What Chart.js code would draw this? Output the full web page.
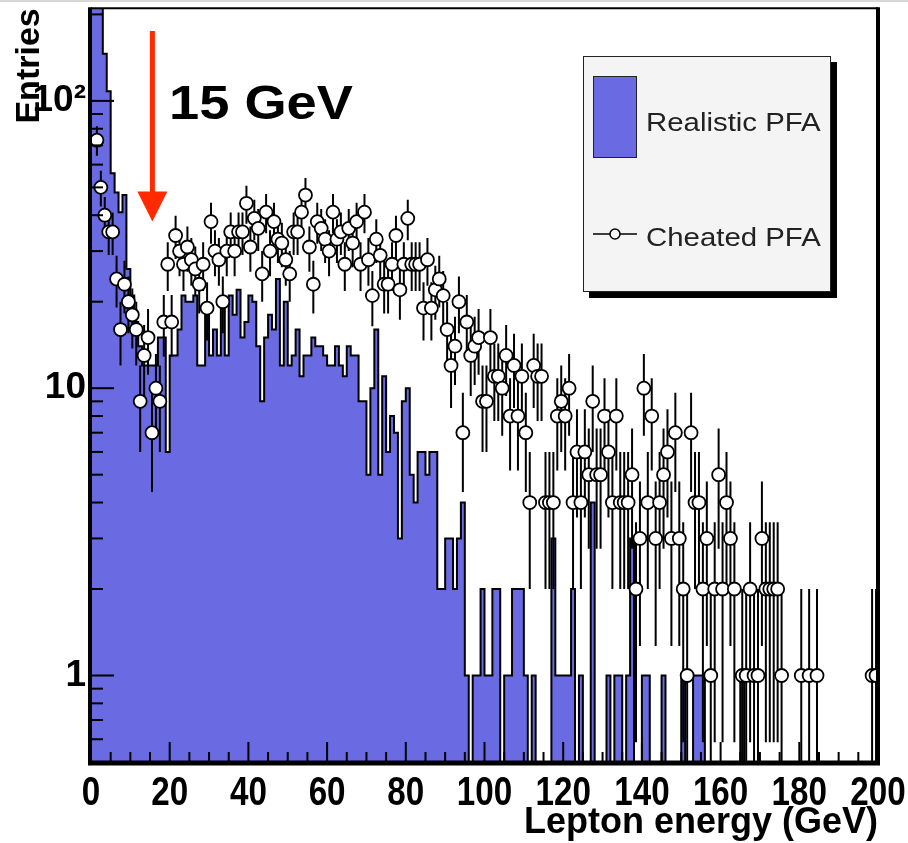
<!DOCTYPE html>
<html>
<head>
<meta charset="utf-8">
<script src="https://cdn.jsdelivr.net/npm/chart.js@4.4.1/dist/chart.umd.min.js"></script>
<style>
  html, body { margin: 0; padding: 0; background: #fff; }
  #wrap { position: relative; width: 908px; height: 843px; overflow: hidden; }
  #topline { position: absolute; left: 0; top: 0; width: 908px; height: 2px; background: #d8d8d8; }
  #c { position: absolute; left: 0; top: 0; }
  .note { position: absolute; left: 169px; top: 79px; font: bold 48px "Liberation Sans", Arial, sans-serif; color: #000;
          white-space: nowrap; line-height: 1; transform: scaleX(1.13); transform-origin: 0 0; }
  #legend { position: absolute; left: 583px; top: 56px; width: 248px; height: 236px; box-sizing: border-box;
            background: #f4f4f4; border: 1px solid #222; box-shadow: 6px 6px 0 #000; }
  #legend .swatch { position: absolute; left: 9px; top: 19px; width: 44px; height: 82px; box-sizing: border-box;
                    background: #6a6ae2; border: 1px solid #222; }
  #legend .txt { position: absolute; left: 62px; font: 26px "Liberation Sans", Arial, sans-serif; color: #222; line-height: 1;
                 white-space: nowrap; transform: scaleX(1.13); transform-origin: 0 0; }
  #legend svg { position: absolute; left: 8px; top: 167px; }
</style>
</head>
<body>
<div id="wrap">
  <canvas id="c" width="908" height="843"></canvas>
  <div id="topline"></div>
  <div class="note">15 GeV</div>
  <div id="legend">
    <div class="swatch"></div>
    <div class="txt" style="top:52px">Realistic PFA</div>
    <svg width="46" height="20"><line x1="1" y1="10" x2="45" y2="10" stroke="#000" stroke-width="1.5"/><circle cx="23" cy="10" r="5" fill="#f4f4f4" stroke="#000" stroke-width="1.5"/></svg>
    <div class="txt" style="top:167px">Cheated PFA</div>
  </div>
</div>
<script>
// histogram binning: 200 bins of 1 GeV starting at 0
const binWidth = 1;

// Realistic PFA, entries per bin (0-1 GeV, 1-2 GeV, ...)
const realistic = [
  250, 250, 220, 146, 108, 56, 48, 41, 47, 26,
  21, 17, 14, 12, 12, 12, 12, 15, 15, 6,
  13, 13, 16, 21, 20, 20, 21, 12, 12, 18,
  13, 16, 13, 20, 13, 21, 18, 22, 15, 17,
  21, 20, 14, 9, 15, 18, 16, 24, 12, 20,
  12, 13, 16, 11, 13, 13, 15, 14, 14, 13,
  12, 12, 14, 12, 11, 14, 13, 13, 9, 9,
  5, 10, 16, 5, 11, 6, 8, 7, 3, 9,
  10, 5, 4, 6, 6, 5, 6, 6, 2, 2,
  3, 3, 2, 3, 4, 1, 0, 1, 1, 2,
  1, 1, 2, 2, 0, 1, 1, 2, 2, 2,
  1, 0, 1, 0, 0, 0, 0, 3, 1, 1,
  1, 1, 2, 0, 1, 0, 0, 4, 0, 0,
  0, 1, 0, 1, 1, 0, 1, 3, 0, 0,
  1, 1, 0, 0, 0, 1, 0, 0, 0, 0,
  1, 0, 0, 1, 1, 1, 0, 0, 0, 0,
  0, 0, 0, 0, 0, 1, 0, 0, 0, 0,
  0, 0, 0, 0, 0, 0, 0, 0, 0, 0,
  0, 0, 0, 0, 0, 0, 0, 0, 0, 0,
  0, 0, 0, 0, 0, 0, 0, 0, 0, 0
];

// Cheated PFA, entries per bin
const cheated = [
  0, 73, 50, 40, 35, 35, 24, 16, 23, 20,
  18, 16, 9, 13, 15, 7, 10, 9, 17, 27,
  17, 34, 30, 27, 31, 28, 26, 23, 27, 19,
  38, 30, 28, 20, 30, 35, 30, 35, 35, 44,
  31, 39, 36, 25, 41, 30, 38, 33, 32, 28,
  25, 35, 35, 41, 47, 31, 23, 38, 36, 33,
  30, 41, 33, 35, 27, 36, 32, 38, 27, 41,
  28, 21, 33, 29, 23, 23, 27, 34, 22, 27,
  39, 27, 27, 27, 19, 28, 19, 22, 24, 21,
  16, 12, 14, 20, 7, 17, 13, 14, 15, 9,
  9, 15, 11, 11, 10, 13, 8, 12, 8, 11,
  7, 4, 12, 11, 11, 4, 4, 4, 8, 9,
  8, 10, 4, 6, 4, 6, 5, 9, 5, 5,
  8, 6, 4, 8, 4, 4, 4, 5, 2, 3,
  10, 4, 8, 3, 4, 5, 6, 3, 7, 3,
  2, 1, 7, 4, 4, 2, 3, 1, 2, 5,
  2, 4, 3, 2, 0, 1, 1, 2, 1, 1,
  3, 2, 2, 2, 2, 1, 0, 0, 0, 0,
  1, 0, 1, 0, 1, 0, 0, 0, 0, 0,
  0, 0, 0, 0, 0, 0, 0, 0, 1, 1
];

// axes
const xMin = 0, xMax = 200, xMinorStep = 5;
const xTickValues = [0, 20, 40, 60, 80, 100, 120, 140, 160, 180, 200];
const xTickLabels = ['0', '20', '40', '60', '80', '100', '120', '140', '160', '180', '200'];
const yMin = 0.5, yMax = 210;
const yTickValues = [1, 10, 100];
const yTickLabels = ['1', '10', '10\u00B2'];

// "15 GeV" arrow (energy, entries at tail and tip)
const arrowEnergy = 15.6, arrowFrom = 175, arrowTo = 38;

const blue = '#6a6ae2';
const below = 0.1; // empty bins go under the axis floor
const sans = "'Liberation Sans', Arial, sans-serif";

// step outline points: bin centres plus the two outer edges
function stepPoints(counts) {
  const pts = [{ x: xMin, y: counts[0] || below }];
  counts.forEach((n, i) => pts.push({ x: xMin + (i + 0.5) * binWidth, y: n || below }));
  pts.push({ x: xMin + counts.length * binWidth, y: counts[counts.length - 1] || below });
  return pts;
}

const errorBars = {
  id: 'errorBars',
  beforeDatasetDraw(chart, args) {
    if (chart.data.datasets[args.index].label !== 'Cheated PFA') return;
    const { ctx, chartArea: a, scales: { x, y } } = chart;
    ctx.save();
    ctx.beginPath();
    ctx.rect(a.left, a.top, a.right - a.left, a.bottom - a.top);
    ctx.clip();
    ctx.strokeStyle = '#000';
    ctx.lineWidth = 2;
    cheated.forEach((n, i) => {
      if (n <= 0) return;
      const e = Math.sqrt(n);
      const px = x.getPixelForValue(xMin + (i + 0.5) * binWidth);
      const lo = n - e;
      ctx.beginPath();
      ctx.moveTo(px, y.getPixelForValue(n + e));
      ctx.lineTo(px, lo > 0 ? y.getPixelForValue(lo) : a.bottom + 5);
      ctx.stroke();
    });
    ctx.restore();
  }
};

const frame = {
  id: 'frame',
  afterDatasetsDraw(chart) {
    const { ctx, chartArea: a, scales: { x, y } } = chart;
    ctx.save();
    ctx.strokeStyle = '#000';
    ctx.lineWidth = 2;
    const seg = (x0, y0, x1, y1) => { ctx.beginPath(); ctx.moveTo(x0, y0); ctx.lineTo(x1, y1); ctx.stroke(); };
    // log ticks on the left, pointing in
    for (let d = -1; d <= 2; d++) {
      for (let m = 1; m <= 9; m++) {
        const v = m * Math.pow(10, d);
        if (v < yMin || v > yMax) continue;
        const py = y.getPixelForValue(v);
        seg(a.left, py, a.left + (m === 1 ? 23 : 12), py);
      }
    }
    // x ticks on the bottom, pointing in
    for (let v = xMin; v <= xMax; v += xMinorStep) {
      const px = x.getPixelForValue(v);
      seg(px, a.bottom, px, a.bottom - (xTickValues.includes(v) ? 20 : 10));
    }
    // frame
    seg(a.left, a.top, a.right, a.top);
    ctx.lineWidth = 4;
    seg(a.left - 1, a.top - 1, a.left - 1, a.bottom + 2);
    seg(a.right, a.top - 1, a.right, a.bottom + 2);
    ctx.lineWidth = 5;
    seg(a.left - 3, a.bottom + 1, a.right + 2, a.bottom + 1);
    ctx.restore();
  }
};

// x tick labels are narrow and tall in the original
const xLabels = {
  id: 'xLabels',
  afterDraw(chart) {
    const { ctx, scales: { x } } = chart;
    ctx.save();
    ctx.font = 'bold 40px ' + sans;
    ctx.fillStyle = '#000';
    ctx.textAlign = 'center';
    ctx.textBaseline = 'alphabetic';
    xTickValues.forEach((v, k) => {
      ctx.save();
      ctx.translate(x.getPixelForValue(v), 805);
      ctx.scale(0.83, 1);
      ctx.fillText(xTickLabels[k], 0, 0);
      ctx.restore();
    });
    ctx.restore();
  }
};

const arrow = {
  id: 'arrow',
  afterDraw(chart) {
    const { ctx, scales: { x, y } } = chart;
    const px = x.getPixelForValue(arrowEnergy);
    const y0 = y.getPixelForValue(arrowFrom);
    const y1 = y.getPixelForValue(arrowTo);
    ctx.save();
    ctx.strokeStyle = ctx.fillStyle = '#ff2a00';
    ctx.lineWidth = 5;
    ctx.beginPath(); ctx.moveTo(px, y0); ctx.lineTo(px, y1 - 28); ctx.stroke();
    ctx.beginPath();
    ctx.moveTo(px - 15, y1 - 30); ctx.lineTo(px + 15, y1 - 30); ctx.lineTo(px, y1);
    ctx.closePath(); ctx.fill();
    ctx.restore();
  }
};

new Chart(document.getElementById('c'), {
  type: 'line',
  data: {
    datasets: [
      {
        label: 'Realistic PFA',
        data: stepPoints(realistic),
        stepped: 'middle',
        fill: 'start',
        backgroundColor: blue,
        borderColor: '#000',
        borderWidth: 2,
        pointRadius: 0,
        clip: 0,
        order: 2
      },
      {
        label: 'Cheated PFA',
        data: cheated.map((n, i) => ({ x: xMin + (i + 0.5) * binWidth, y: n > 0 ? n : null })),
        showLine: false,
        pointStyle: 'circle',
        pointRadius: 6.5,
        pointBorderWidth: 1.8,
        pointBackgroundColor: '#fff',
        pointBorderColor: '#000',
        clip: 0,
        order: 1
      }
    ]
  },
  options: {
    responsive: false,
    animation: false,
    devicePixelRatio: 1,
    layout: { padding: { top: 8, right: 30, left: 0, bottom: 0 } },
    plugins: { legend: { display: false }, tooltip: { enabled: false } },
    scales: {
      x: {
        type: 'linear', min: xMin, max: xMax,
        afterFit(s) { s.height = 81; s.paddingLeft = 0; s.paddingRight = 0; },
        grid: { display: false, drawTicks: false },
        border: { display: false },
        ticks: { display: false },
        title: {
          display: true, text: 'Lepton energy (GeV)', align: 'end', color: '#000',
          font: { family: sans, weight: 'bold', size: 36, lineHeight: 1 },
          padding: { top: 0, bottom: 2 }
        }
      },
      y: {
        type: 'logarithmic', min: yMin, max: yMax,
        afterFit(s) { s.width = 91; s.paddingTop = 0; s.paddingBottom = 0; },
        afterBuildTicks(s) { s.ticks = yTickValues.map(v => ({ value: v, major: true })); },
        grid: { display: false, drawTicks: false },
        border: { display: false },
        ticks: {
          autoSkip: false, padding: 5, color: '#000',
          font: { family: sans, weight: 'bold', size: 37, lineHeight: 1 },
          callback: (v) => yTickLabels[yTickValues.indexOf(v)]
        },
        title: {
          display: true, text: 'Entries', align: 'end', color: '#000',
          font: { family: sans, weight: 'bold', size: 34, lineHeight: 1 },
          padding: { top: 13, bottom: 0 }
        }
      }
    }
  },
  plugins: [errorBars, frame, xLabels, arrow]
});
</script>
</body>
</html>
